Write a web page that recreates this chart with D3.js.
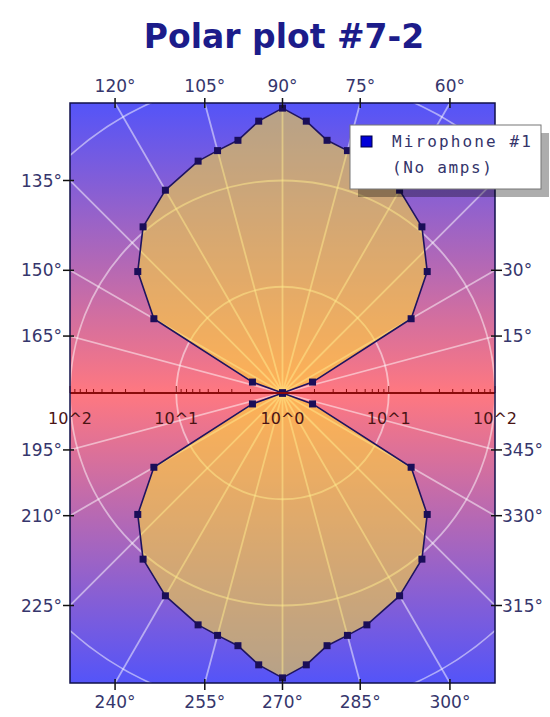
<!DOCTYPE html>
<html><head><meta charset="utf-8">
<script src="https://cdnjs.cloudflare.com/ajax/libs/d3/7.8.5/d3.min.js"></script>
<style>body{margin:0;background:#fff}</style>
</head><body><svg id="c" width="550" height="717"></svg>
<script>
// ---- data ----
const angles = [0,20,30,40,50,60,70,75,80,85,90,95,100,105,110,120,130,140,150,160,180,
                200,210,220,230,240,250,255,260,265,270,275,280,285,290,300,310,320,330,340,360];
const values = [1,2,25,60,110,160,210,230,260,370,480,370,260,230,210,160,110,60,25,2,1,
                2,25,60,110,160,210,230,260,370,480,370,260,230,210,160,110,60,25,2,1];
const angleTicks = d3.range(0, 360, 15);
const gridCircles = [10, 100, 1000];
const axisLabelValues = [100, 10, 1, 10, 100];
const axisLabelSides = [-1, -1, 0, 1, 1];
const axisLabels = ["10^2", "10^1", "10^0", "10^1", "10^2"];
const titleText = "Polar plot #7-2";
const legendLines = ["Mirophone #1", "(No amps)"];

// ---- layout ----
const L = 70, R = 495, T = 103, B = 683;
const cx = (L + R) / 2, cy = (T + B) / 2;
const r = d3.scaleLog().domain([1, 100]).range([0, cx - L]);
const svg = d3.select("#c");
const defs = svg.append("defs");

const bg = defs.append("linearGradient").attr("id", "bg").attr("x1", 0).attr("x2", 0).attr("y1", 0).attr("y2", 1);
bg.append("stop").attr("offset", "0%").attr("stop-color", "#5454f8");
bg.append("stop").attr("offset", "50%").attr("stop-color", "#ff7880");
bg.append("stop").attr("offset", "100%").attr("stop-color", "#5454f8");
defs.append("clipPath").attr("id", "clip").append("rect")
  .attr("x", L).attr("y", T).attr("width", R - L).attr("height", B - T);

// title
svg.append("text").attr("x", 284).attr("y", 48).attr("text-anchor", "middle")
  .attr("font-family", "DejaVu Sans").attr("font-weight", "bold").attr("font-size", 33)
  .attr("fill", "#1c1c8a").text(titleText);

// plot background
svg.append("rect").attr("x", L).attr("y", T).attr("width", R - L).attr("height", B - T)
  .attr("fill", "url(#bg)");

const g = svg.append("g").attr("clip-path", "url(#clip)");
const toRad = a => a * Math.PI / 180;

// grid circles
g.selectAll("circle.grid").data(gridCircles).enter().append("circle")
  .attr("cx", cx).attr("cy", cy).attr("r", d => r(d))
  .attr("fill", "none").attr("stroke", "#fff").attr("stroke-opacity", 0.5).attr("stroke-width", 1.8);
// radial grid
g.selectAll("line.rad").data(angleTicks).enter().append("line")
  .attr("x1", cx).attr("y1", cy)
  .attr("x2", d => cx + 500 * Math.cos(toRad(d)))
  .attr("y2", d => cy - 500 * Math.sin(toRad(d)))
  .attr("stroke", "#fff").attr("stroke-opacity", 0.5).attr("stroke-width", 1.8);

// data
const pts = angles.map((a, i) => ({a, v: values[i]}));
const line = d3.lineRadial()
  .angle(d => Math.PI / 2 - toRad(d.a))
  .radius(d => r(d.v));
const pg = g.append("g").attr("transform", `translate(${cx},${cy})`);
pg.append("path").attr("d", line(pts) + "Z")
  .attr("fill", "#ffdc34").attr("fill-opacity", 0.57)
  .attr("stroke", "#1e1460").attr("stroke-width", 1.6).attr("stroke-linejoin", "round");

// horizontal axis
const axisColor = "#8a0c0c";
svg.append("line").attr("x1", L).attr("x2", R).attr("y1", cy).attr("y2", cy)
  .attr("stroke", axisColor).attr("stroke-width", 2);
const ticks = [];
[1, 10].forEach(d => d3.range(1, 10).forEach(m => {
  const v = d * m;
  if (v > 1) ticks.push({v, major: m === 1});
}));
ticks.push({v: 100, major: true});
[-1, 1].forEach(s => {
  svg.selectAll(null).data(ticks).enter().append("line")
    .attr("x1", d => cx + s * r(d.v)).attr("x2", d => cx + s * r(d.v))
    .attr("y1", cy).attr("y2", d => cy - (d.major ? 7 : 4))
    .attr("stroke", axisColor).attr("stroke-width", 1);
});
svg.selectAll("text.ax").data(axisLabels).enter().append("text")
  .attr("x", (d, i) => cx + axisLabelSides[i] * r(axisLabelValues[i]))
  .attr("y", cy + 31).attr("text-anchor", "middle")
  .attr("font-family", "DejaVu Sans").attr("font-size", 16).attr("fill", "#4a1414")
  .text(d => d);

// markers
pg.selectAll("rect.m").data(pts).enter().append("rect")
  .attr("x", d => r(d.v) * Math.cos(toRad(d.a)) - 3.5)
  .attr("y", d => -r(d.v) * Math.sin(toRad(d.a)) - 3.5)
  .attr("width", 7).attr("height", 7).attr("fill", "#1a0e58");

// border
svg.append("rect").attr("x", L).attr("y", T).attr("width", R - L).attr("height", B - T)
  .attr("fill", "none").attr("stroke", "#10104a").attr("stroke-width", 1.5);

// angle labels on border
const lblColor = "#36366c";
angleTicks.filter(a => a !== 0 && a !== 180).forEach(a => {
  const c = Math.cos(toRad(a)), s = -Math.sin(toRad(a));
  let t = Infinity, side = null;
  if (c > 1e-9) { const tt = (R - cx) / c; if (tt < t) { t = tt; side = "R"; } }
  if (c < -1e-9) { const tt = (L - cx) / c; if (tt < t) { t = tt; side = "L"; } }
  if (s > 1e-9) { const tt = (B - cy) / s; if (tt < t) { t = tt; side = "B"; } }
  if (s < -1e-9) { const tt = (T - cy) / s; if (tt < t) { t = tt; side = "T"; } }
  const x = cx + t * c, y = cy + t * s;
  const txt = svg.append("text").attr("font-family", "DejaVu Sans").attr("font-size", 17)
    .attr("fill", lblColor).text(a + "°");
  const tk = svg.append("line").attr("stroke", "#111").attr("stroke-width", 1.5);
  if (side === "T") {
    tk.attr("x1", x).attr("x2", x).attr("y1", y - 5).attr("y2", y + 5);
    txt.attr("x", x).attr("y", y - 11).attr("text-anchor", "middle");
  } else if (side === "B") {
    tk.attr("x1", x).attr("x2", x).attr("y1", y - 4).attr("y2", y + 7);
    txt.attr("x", x).attr("y", y + 25).attr("text-anchor", "middle");
  } else if (side === "L") {
    tk.attr("x1", x - 7).attr("x2", x + 4).attr("y1", y).attr("y2", y);
    txt.attr("x", x - 8).attr("y", y + 6).attr("text-anchor", "end");
  } else {
    tk.attr("x1", x - 4).attr("x2", x + 7).attr("y1", y).attr("y2", y);
    txt.attr("x", x + 7).attr("y", y + 6).attr("text-anchor", "start");
  }
});

// legend
const lx = 350, ly = 125, lw = 191, lh = 64;
svg.append("rect").attr("x", lx + 8).attr("y", ly + 8).attr("width", lw).attr("height", lh)
  .attr("fill", "#000").attr("fill-opacity", 0.32);
svg.append("rect").attr("x", lx).attr("y", ly).attr("width", lw).attr("height", lh)
  .attr("fill", "#fff").attr("stroke", "#777").attr("stroke-width", 1);
svg.append("rect").attr("x", lx + 11).attr("y", ly + 11).attr("width", 11).attr("height", 11)
  .attr("fill", "#0000d8").attr("stroke", "#000040").attr("stroke-width", 1);
svg.selectAll("text.lg").data(legendLines).enter().append("text")
  .attr("x", lx + 42).attr("y", (d, i) => ly + 22 + i * 26)
  .attr("font-family", "DejaVu Sans Mono").attr("font-size", 16).attr("fill", "#34346a")
  .attr("textLength", (d, i) => i === 0 ? 139 : 100).attr("lengthAdjust", "spacing")
  .text(d => d);
</script></body></html>
